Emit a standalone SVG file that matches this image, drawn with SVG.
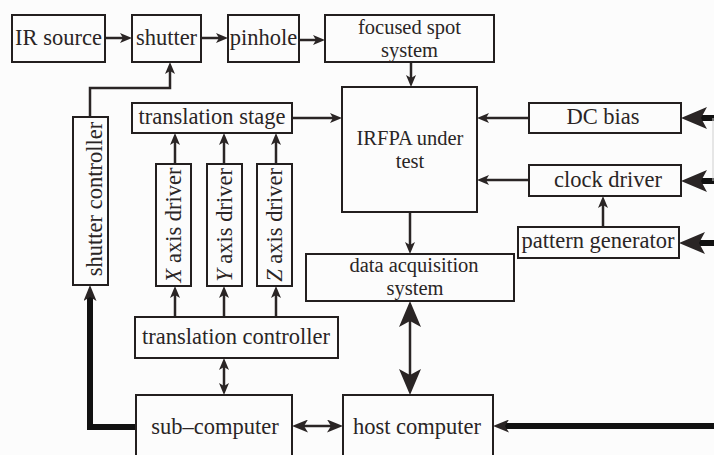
<svg xmlns="http://www.w3.org/2000/svg" width="714" height="455" viewBox="0 0 714 455">
<style>
.bx{fill:none;stroke:#231f1f;stroke-width:2}
.t{font-family:"Liberation Serif","Times New Roman",serif;font-size:22.5px;fill:#2a2525;text-anchor:middle}
.t2{font-size:20.5px}
.c{fill:none;stroke:#2a2525;stroke-width:2.5}
.k{fill:none;stroke:#111;stroke-width:6}
</style>
<defs>
<marker id="m1" markerUnits="userSpaceOnUse" markerWidth="12" markerHeight="10" viewBox="0 0 12 10" refX="3" refY="5" orient="auto-start-reverse"><path d="M0,0 L12,5 L0,10 L3,5 Z" fill="#2a2525"/></marker>
<marker id="m3" markerUnits="userSpaceOnUse" markerWidth="16" markerHeight="13" viewBox="0 0 16 13" refX="4" refY="6.5" orient="auto-start-reverse"><path d="M0,0 L16,6.5 L0,13 L4,6.5 Z" fill="#2a2525"/></marker>
<marker id="m2" markerUnits="userSpaceOnUse" markerWidth="26" markerHeight="22" viewBox="0 0 26 22" refX="6" refY="11" orient="auto-start-reverse"><path d="M0,0 L26,11 L0,22 L6,11 Z" fill="#2a2525"/></marker>
</defs>
<rect width="714" height="455" fill="#fcfcfc"/>

<g id="connectors">
<path class="c" d="M105,38 H123" marker-end="url(#m1)"/>
<path class="c" d="M201,38 H219" marker-end="url(#m1)"/>
<path class="c" d="M299,40 H316" stroke-width="3.5" marker-end="url(#m1)"/>
<path class="c" d="M411,62 V78" marker-end="url(#m1)"/>
<path class="c" d="M90,117 V88 H170 V71" stroke-width="3" marker-end="url(#m1)"/>
<path class="c" d="M292,118 H333" marker-end="url(#m1)"/>
<path class="c" d="M529,118 H486" marker-end="url(#m1)"/>
<path class="c" d="M529,180 H486" marker-end="url(#m1)"/>
<path class="c" d="M603,227 V205" marker-end="url(#m1)"/>
<path class="c" d="M175,164 V142" marker-end="url(#m1)"/>
<path class="c" d="M224,164 V142" marker-end="url(#m1)"/>
<path class="c" d="M276,164 V142" marker-end="url(#m1)"/>
<path class="c" d="M175,317 V295" marker-end="url(#m1)"/>
<path class="c" d="M224,317 V295" marker-end="url(#m1)"/>
<path class="c" d="M276,317 V295" marker-end="url(#m1)"/>
<path class="c" d="M410,212 V245" marker-end="url(#m1)"/>
<path class="c" d="M410,321 V375" stroke-width="7" marker-start="url(#m2)" marker-end="url(#m2)"/>
<path class="c" d="M224,367 V386" stroke-width="3" marker-start="url(#m1)" marker-end="url(#m1)"/>
<path class="c" d="M304,426 H331" stroke-width="5" marker-start="url(#m3)" marker-end="url(#m3)"/>
<path class="k" d="M136,427 H90 V297" stroke-width="5" marker-end="url(#m3)"/>
<path class="k" d="M714,118 H701" marker-end="url(#m2)"/>
<path class="k" d="M714,181 H701" marker-end="url(#m2)"/>
<path class="k" d="M714,243 H699" marker-end="url(#m2)"/>
<path class="k" d="M714,426 H505" marker-end="url(#m3)"/>
<path d="M713,118 V181" stroke="#d0d0d0" stroke-width="1" fill="none"/>
</g>

<g id="ir-source"><rect class="bx" x="12" y="15" width="93" height="47"/><text class="t" x="58.5" y="45">IR source</text></g>
<g id="shutter"><rect class="bx" x="132" y="15" width="69" height="47"/><text class="t" x="166.5" y="45">shutter</text></g>
<g id="pinhole"><rect class="bx" x="228" y="15" width="71" height="47"/><text class="t" x="263.5" y="45">pinhole</text></g>
<g id="focused-spot"><rect class="bx" x="325" y="15" width="169" height="47"/><text class="t t2" x="409.5" y="34">focused spot</text><text class="t t2" x="409.5" y="57">system</text></g>
<g id="shutter-controller"><rect class="bx" x="73" y="117" width="35" height="168"/><text class="t" transform="translate(102,199) rotate(-90)">shutter controller</text></g>
<g id="translation-stage"><rect class="bx" x="132" y="103" width="160" height="30"/><text class="t" x="212" y="124">translation stage</text></g>
<g id="irfpa"><rect class="bx" x="342" y="87" width="135" height="125"/><text class="t t2" x="410" y="145">IRFPA under</text><text class="t t2" x="410" y="168">test</text></g>
<g id="dc-bias"><rect class="bx" x="529" y="103" width="152" height="30"/><text class="t" x="603" y="124">DC bias</text></g>
<g id="clock-driver"><rect class="bx" x="529" y="165" width="152" height="31"/><text class="t" x="608" y="187">clock driver</text></g>
<g id="pattern-generator"><rect class="bx" x="518" y="227" width="161" height="31"/><text class="t" x="598" y="248">pattern generator</text></g>
<g id="x-driver"><rect class="bx" x="156" y="164" width="35" height="122"/><text class="t" transform="translate(181,225) rotate(-90)"><tspan font-style="italic">X</tspan> axis driver</text></g>
<g id="y-driver"><rect class="bx" x="207" y="164" width="35" height="122"/><text class="t" transform="translate(232,225) rotate(-90)"><tspan font-style="italic">Y</tspan> axis driver</text></g>
<g id="z-driver"><rect class="bx" x="257" y="164" width="35" height="122"/><text class="t" transform="translate(282,225) rotate(-90)"><tspan font-style="italic">Z</tspan> axis driver</text></g>
<g id="data-acquisition"><rect class="bx" x="306" y="254" width="208" height="47"/><text class="t t2" x="414" y="272">data acquisition</text><text class="t t2" x="415" y="295">system</text></g>
<g id="translation-controller"><rect class="bx" x="135" y="317" width="203" height="41"/><text class="t" x="236" y="344">translation controller</text></g>
<g id="sub-computer"><rect class="bx" x="136" y="395" width="156" height="70"/><text class="t" x="215" y="434">sub–computer</text></g>
<g id="host-computer"><rect class="bx" x="343" y="395" width="150" height="70"/><text class="t" x="417" y="434">host computer</text></g>
</svg>
